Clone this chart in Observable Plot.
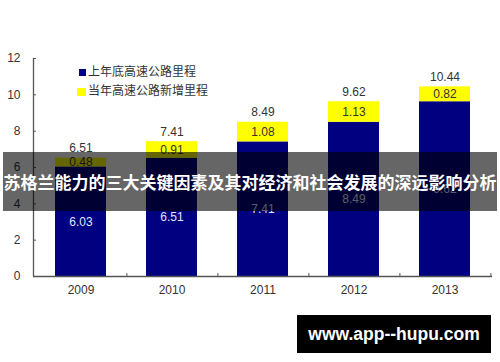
<!DOCTYPE html>
<html><head><meta charset="utf-8">
<script src="https://cdn.jsdelivr.net/npm/d3@7"></script>
<script src="https://cdn.jsdelivr.net/npm/@observablehq/plot@0.6"></script>
<style>
html,body{margin:0;padding:0;background:#fff;}
#wrap{position:relative;width:500px;height:362px;overflow:hidden;font-family:"Liberation Sans",Arial,sans-serif;}
#wrap svg{position:absolute;left:0;top:0;}
.leg{position:absolute;left:77px;font-family:"Noto Sans CJK SC",sans-serif;font-size:12px;color:#333;line-height:14px;white-space:nowrap;}
.sw{display:inline-block;vertical-align:middle;margin-right:2px;}
#banner{position:absolute;left:3px;top:152px;width:494px;height:59px;background:rgba(0,0,0,0.6);color:#fff;
  font-family:"Noto Sans CJK SC",sans-serif;font-weight:bold;font-size:17px;line-height:59px;text-align:center;white-space:nowrap;}
#wm{position:absolute;left:297px;top:315px;width:194px;height:38px;background:#000;color:#fff;
  font-family:"Liberation Sans",Arial,sans-serif;font-weight:bold;font-size:17.5px;line-height:38px;text-align:center;white-space:nowrap;}
</style></head><body><div id="wrap"></div>
<script>
const years = ["2009","2010","2011","2012","2013"];
const baseMileage = [6.03, 6.51, 7.41, 8.49, 9.62];
const newMileage = [0.48, 0.91, 1.08, 1.13, 0.82];
const totalLabels = [6.51, 7.41, 8.49, 9.62, 10.44];
const yTicks = [0, 2, 4, 6, 8, 10, 12];
const seriesNames = ["上年底高速公路里程", "当年高速公路新增里程"];
const seriesColors = ["#000080", "#ffff00"];
const bannerText = "苏格兰能力的三大关键因素及其对经济和社会发展的深远影响分析";
const watermarkText = "www.app--hupu.com";

const rows = years.map((y, i) => ({
  year: y, base: baseMileage[i], inc: newMileage[i],
  top: baseMileage[i] + newMileage[i], total: totalLabels[i]
}));

const W = 500, H = 362, mL = 33, mR = 8, mT = 58, mB = 86;
const halfStep = (W - mL - mR) / years.length / 2;

const chart = Plot.plot({
  width: W, height: H,
  marginLeft: mL, marginRight: mR, marginTop: mT, marginBottom: mB,
  style: {fontFamily: "'Liberation Sans', Arial, sans-serif", fontSize: "12px", color: "#333", background: "transparent"},
  x: {type: "band", domain: years, paddingInner: 0.445, paddingOuter: 0.2225, label: null},
  y: {domain: [0, 12], label: null},
  marks: [
    Plot.barY(rows, {x: "year", y1: 0, y2: "base", fill: seriesColors[0]}),
    Plot.barY(rows, {x: "year", y1: "base", y2: "top", fill: seriesColors[1]}),
    Plot.text(rows, {x: "year", y: d => d.base / 2, text: d => d.base.toFixed(2), fill: "#dfe6ff", fontSize: 12}),
    Plot.text(rows, {x: "year", y: d => d.base + d.inc / 2, text: d => d.inc.toFixed(2), fill: "#333", fontSize: 12}),
    Plot.text(rows, {x: "year", y: "top", dy: -10, text: d => d.total.toFixed(2), fill: "#333", fontSize: 12}),
    Plot.ruleY([0], {stroke: "#555", strokeWidth: 1.3}),
    Plot.frame({anchor: "left", stroke: "#555", strokeWidth: 1.3}),
    Plot.axisY({ticks: yTicks, tickFormat: d => String(d), tickSize: -3, tickPadding: 16, stroke: "#555", fill: "#333", fontSize: 12, label: null}),
    Plot.axisX({tickSize: -3, dx: halfStep, stroke: "#555", fill: "none", label: null}),
    Plot.axisX({tickSize: 0, tickPadding: 9, fill: "#333", fontSize: 12, label: null})
  ]
});

const wrap = document.getElementById("wrap");
wrap.appendChild(chart);

const legTops = [64, 83];
seriesNames.forEach((name, i) => {
  const d = document.createElement("div");
  d.className = "leg";
  d.style.top = legTops[i] + "px";
  const sw = document.createElement("span");
  sw.className = "sw";
  sw.style.background = seriesColors[i];
  sw.style.width = (i === 0 ? 7 : 9) + "px";
  sw.style.height = (i === 0 ? 7 : 8) + "px";
  if (i === 0) sw.style.marginLeft = "2px";
  d.appendChild(sw);
  d.appendChild(document.createTextNode(name));
  wrap.appendChild(d);
});

const banner = document.createElement("div");
banner.id = "banner";
banner.textContent = bannerText;
wrap.appendChild(banner);

const wm = document.createElement("div");
wm.id = "wm";
wm.textContent = watermarkText;
wrap.appendChild(wm);
</script>
</body></html>
